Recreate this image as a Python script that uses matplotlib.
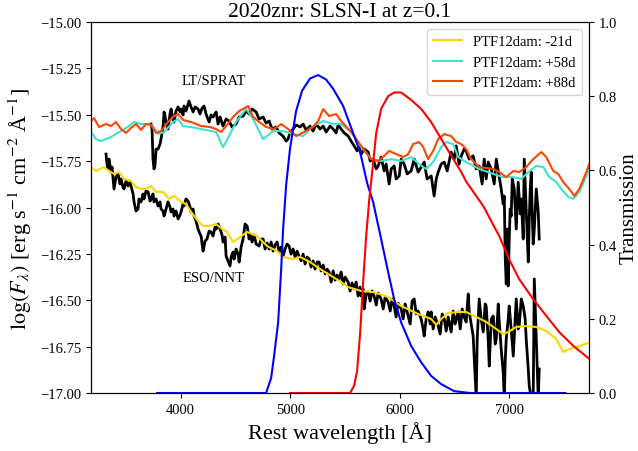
import matplotlib
matplotlib.use("Agg")
import matplotlib.pyplot as plt
from matplotlib.ticker import FuncFormatter
import numpy as np

plt.rcParams['font.family'] = ['Liberation Serif', 'DejaVu Serif']
plt.rcParams['mathtext.fontset'] = 'stix'

# ---------------- data ----------------
# PTF12dam templates (rest wavelength [A], log flux)
t88_wl = [3182,3209,3255,3319,3365,3410,3456,3502,3547,3593,3639,3684,3730,3776,3821,3885,3940,3977,4022,4095,4187,4269,4324,4369,4415,4479,4534,4616,4661,4716,4780,4853,4917,4981,5054,5127,5209,5255,5301,5355,5419,5465,5556,5648,5739,5803,5858,5903,5967,6031,6077,6122,6177,6214,6259,6305,6351,6406,6469,6515,6561,6606,6652,6725,6853,6908,6972,7036,7090,7154,7218,7292,7337,7401,7447,7492,7547,7593,7639,7703,7739]
t88_fl = [-15.534,-15.518,-15.566,-15.550,-15.561,-15.539,-15.577,-15.598,-15.571,-15.550,-15.582,-15.550,-15.555,-15.598,-15.588,-15.539,-15.507,-15.496,-15.528,-15.539,-15.561,-15.566,-15.577,-15.593,-15.561,-15.512,-15.480,-15.453,-15.512,-15.539,-15.566,-15.577,-15.550,-15.577,-15.615,-15.593,-15.566,-15.534,-15.469,-15.507,-15.496,-15.534,-15.593,-15.668,-15.739,-15.749,-15.722,-15.695,-15.712,-15.728,-15.712,-15.658,-15.647,-15.674,-15.739,-15.695,-15.631,-15.604,-15.615,-15.647,-15.658,-15.685,-15.739,-15.782,-15.792,-15.809,-15.836,-15.803,-15.809,-15.782,-15.739,-15.701,-15.728,-15.803,-15.819,-15.863,-15.900,-15.938,-15.900,-15.809,-15.749]

t58_wl = [3182,3228,3273,3365,3456,3529,3575,3639,3703,3748,3794,3849,3931,3977,4022,4095,4187,4324,4387,4442,4506,4598,4661,4753,4844,4935,5027,5118,5209,5301,5392,5465,5556,5648,5739,5830,5922,6013,6104,6177,6241,6305,6378,6424,6488,6533,6606,6725,6853,6944,7036,7109,7173,7246,7310,7365,7429,7474,7538,7584,7639,7703,7739]
t58_fl = [-15.593,-15.631,-15.642,-15.620,-15.588,-15.561,-15.539,-15.550,-15.550,-15.561,-15.604,-15.593,-15.539,-15.523,-15.561,-15.566,-15.577,-15.593,-15.674,-15.615,-15.539,-15.469,-15.523,-15.631,-15.588,-15.588,-15.604,-15.615,-15.561,-15.534,-15.550,-15.550,-15.593,-15.674,-15.739,-15.749,-15.739,-15.749,-15.728,-15.766,-15.792,-15.755,-15.674,-15.647,-15.658,-15.728,-15.755,-15.792,-15.819,-15.836,-15.836,-15.846,-15.809,-15.776,-15.782,-15.836,-15.863,-15.900,-15.943,-15.954,-15.916,-15.830,-15.776]

t21_wl = [3182,3228,3301,3346,3392,3438,3483,3547,3593,3639,3684,3730,3776,3840,3894,3940,4004,4049,4095,4159,4205,4260,4324,4378,4424,4479,4543,4607,4698,4789,4881,4935,5027,5091,5182,5273,5392,5465,5529,5648,5766,5894,6013,6168,6287,6333,6378,6442,6533,6606,6698,6789,6881,6944,6990,7063,7154,7246,7337,7429,7492,7547,7639,7739]
t21_fl = [-15.782,-15.803,-15.782,-15.803,-15.819,-15.809,-15.846,-15.857,-15.890,-15.900,-15.900,-15.884,-15.916,-15.916,-15.954,-15.938,-15.970,-15.981,-16.024,-16.073,-16.100,-16.100,-16.089,-16.116,-16.132,-16.186,-16.159,-16.132,-16.154,-16.208,-16.235,-16.267,-16.278,-16.267,-16.294,-16.332,-16.375,-16.402,-16.429,-16.450,-16.456,-16.483,-16.531,-16.574,-16.601,-16.633,-16.601,-16.569,-16.563,-16.563,-16.590,-16.617,-16.655,-16.682,-16.671,-16.644,-16.639,-16.644,-16.666,-16.709,-16.779,-16.763,-16.747,-16.725]

# LT/SPRAT spectrum
lt_wl = [3730,3739,3748,3757,3766,3776,3794,3812,3821,3840,3849,3867,3885,3903,3913,3931,3940,3958,3977,3995,4004,4022,4031,4049,4077,4095,4114,4132,4159,4177,4196,4214,4232,4260,4278,4296,4324,4342,4360,4387,4415,4442,4470,4506,4534,4570,4598,4625,4652,4689,4716,4753,4780,4808,4835,4872,4899,4935,4963,4981,4999,5027,5054,5091,5118,5145,5182,5209,5237,5273,5301,5328,5364,5392,5419,5438,5465,5493,5529,5556,5584,5611,5629,5648,5675,5712,5730,5757,5785,5803,5830,5858,5876,5903,5922,5949,5967,5995,6013,6040,6068,6104,6132,6168,6195,6223,6250,6287,6314,6333,6351,6378,6406,6433,6469,6497,6515,6542,6561,6588,6606,6634,6670,6698,6725,6752,6771,6789,6807,6835,6862,6881,6908,6926,6944,6954,6963,6972,6981,6990,6999,7008,7017,7027,7045,7063,7081,7100,7109,7127,7136,7154,7164,7173,7182,7191,7200,7209,7218,7228,7246,7264,7273]
lt_fl = [-15.550,-15.577,-15.739,-15.792,-15.776,-15.685,-15.685,-15.658,-15.631,-15.561,-15.485,-15.534,-15.577,-15.496,-15.469,-15.523,-15.539,-15.480,-15.458,-15.485,-15.469,-15.501,-15.453,-15.480,-15.426,-15.458,-15.485,-15.458,-15.469,-15.496,-15.464,-15.453,-15.496,-15.539,-15.501,-15.512,-15.485,-15.550,-15.512,-15.561,-15.523,-15.534,-15.566,-15.550,-15.512,-15.507,-15.480,-15.496,-15.469,-15.485,-15.523,-15.512,-15.545,-15.534,-15.577,-15.566,-15.598,-15.615,-15.642,-15.631,-15.593,-15.577,-15.555,-15.566,-15.550,-15.582,-15.561,-15.588,-15.550,-15.577,-15.561,-15.593,-15.561,-15.577,-15.598,-15.555,-15.577,-15.598,-15.615,-15.642,-15.668,-15.695,-15.674,-15.712,-15.685,-15.701,-15.749,-15.739,-15.792,-15.776,-15.728,-15.803,-15.766,-15.873,-15.792,-15.776,-15.846,-15.830,-15.739,-15.766,-15.819,-15.803,-15.739,-15.809,-15.782,-15.755,-15.846,-15.830,-15.938,-15.846,-15.809,-15.766,-15.755,-15.803,-15.701,-15.739,-15.668,-15.766,-15.722,-15.685,-15.695,-15.739,-15.722,-15.792,-15.776,-15.873,-15.739,-15.846,-15.755,-15.792,-15.873,-15.739,-15.836,-15.900,-15.981,-15.938,-16.278,-16.412,-16.116,-16.423,-16.170,-16.008,-16.046,-15.846,-15.900,-16.116,-15.863,-16.035,-15.954,-16.170,-15.739,-16.008,-16.170,-16.294,-16.062,-15.900,-15.809,-16.035,-16.197,-16.116,-15.900,-16.024,-16.170]

# ESO/NNT spectrum
eso_wl = [3319,3328,3337,3346,3365,3374,3392,3410,3429,3447,3456,3474,3483,3502,3520,3538,3547,3566,3575,3593,3611,3620,3639,3657,3666,3684,3703,3721,3730,3748,3757,3776,3794,3812,3821,3840,3849,3867,3885,3903,3913,3931,3940,3958,3977,3995,4004,4022,4031,4049,4068,4086,4095,4114,4123,4141,4159,4177,4187,4196,4205,4223,4241,4260,4278,4296,4314,4324,4342,4360,4378,4387,4406,4415,4433,4451,4461,4479,4488,4506,4524,4534,4552,4570,4588,4607,4625,4634,4652,4671,4689,4716,4734,4753,4771,4789,4808,4826,4844,4862,4881,4899,4917,4935,4953,4972,4990,5008,5027,5045,5063,5081,5100,5118,5136,5154,5173,5191,5209,5227,5246,5264,5282,5301,5319,5337,5355,5374,5392,5410,5428,5447,5465,5483,5502,5529,5547,5565,5584,5602,5620,5638,5648,5666,5675,5693,5712,5730,5748,5766,5785,5803,5830,5849,5867,5894,5913,5931,5949,5967,5985,6013,6031,6049,6077,6095,6113,6132,6150,6168,6195,6214,6223,6241,6259,6278,6287,6305,6323,6351,6369,6387,6406,6424,6442,6469,6488,6506,6533,6552,6570,6588,6606,6625,6634,6652,6670,6680,6689,6698,6707,6725,6743,6762,6780,6789,6807,6817,6835,6853,6871,6881,6899,6908,6926,6944,6954,6963,6972,6990,6999,7017,7036,7054,7063,7081,7090,7109,7127,7145,7154,7173,7182,7200,7218,7228,7237,7246,7255,7264,7273]
eso_fl = [-15.712,-15.766,-15.792,-15.739,-15.809,-15.782,-15.900,-15.836,-15.819,-15.873,-15.846,-15.890,-15.900,-15.857,-15.884,-15.863,-15.884,-15.927,-15.970,-16.019,-16.008,-15.954,-15.970,-15.927,-15.954,-15.911,-15.916,-15.965,-15.954,-15.927,-15.970,-15.954,-15.992,-15.970,-16.008,-16.019,-16.046,-16.008,-15.970,-15.997,-16.024,-16.008,-16.046,-16.019,-16.062,-16.040,-16.024,-15.981,-15.992,-15.954,-15.965,-15.997,-16.024,-16.008,-16.046,-16.073,-16.116,-16.143,-16.154,-16.197,-16.235,-16.181,-16.170,-16.127,-16.132,-16.154,-16.105,-16.116,-16.089,-16.116,-16.148,-16.186,-16.159,-16.262,-16.288,-16.315,-16.267,-16.240,-16.278,-16.224,-16.251,-16.294,-16.213,-16.170,-16.089,-16.100,-16.170,-16.143,-16.186,-16.148,-16.197,-16.208,-16.170,-16.170,-16.224,-16.191,-16.224,-16.186,-16.235,-16.202,-16.186,-16.240,-16.213,-16.262,-16.224,-16.197,-16.208,-16.251,-16.224,-16.267,-16.235,-16.262,-16.288,-16.251,-16.305,-16.267,-16.278,-16.321,-16.288,-16.332,-16.294,-16.294,-16.342,-16.310,-16.358,-16.332,-16.348,-16.402,-16.342,-16.391,-16.364,-16.385,-16.348,-16.412,-16.375,-16.402,-16.450,-16.407,-16.439,-16.402,-16.477,-16.429,-16.477,-16.439,-16.547,-16.466,-16.456,-16.504,-16.450,-16.477,-16.526,-16.461,-16.493,-16.547,-16.483,-16.509,-16.558,-16.493,-16.531,-16.590,-16.515,-16.547,-16.601,-16.520,-16.585,-16.628,-16.504,-16.493,-16.574,-16.558,-16.601,-16.655,-16.693,-16.601,-16.563,-16.628,-16.563,-16.655,-16.590,-16.639,-16.682,-16.574,-16.601,-16.666,-16.590,-16.671,-16.558,-16.628,-16.563,-16.655,-16.547,-16.590,-16.617,-16.466,-16.563,-16.628,-16.693,-16.817,-16.925,-17.030,-16.709,-16.493,-16.601,-16.671,-16.520,-16.531,-16.709,-16.855,-16.601,-16.585,-16.736,-16.709,-16.520,-16.617,-16.763,-16.887,-17.030,-16.817,-16.709,-16.601,-16.531,-16.655,-16.801,-16.601,-16.493,-16.655,-16.639,-16.493,-16.531,-16.601,-16.709,-16.871,-16.962,-17.030,-17.030,-16.385,-16.547,-16.709,-16.871,-17.030,-16.871]

# filter transmission curves (rest frame)
g_wl = [3785,4780,4826,4853,4890,4917,4935,4963,4999,5054,5109,5182,5255,5328,5392,5483,5575,5638,5703,5757,5830,5894,5949,6013,6104,6195,6287,6378,6497,6643,7511]
g_tr = [0,0,0.04,0.10,0.19,0.33,0.44,0.56,0.66,0.76,0.815,0.848,0.857,0.845,0.82,0.774,0.70,0.65,0.565,0.515,0.415,0.326,0.253,0.19,0.127,0.083,0.046,0.024,0.005,0,0]
r_wl = [4999,5547,5584,5611,5638,5666,5693,5721,5757,5785,5830,5894,5949,6013,6104,6195,6287,6378,6469,6561,6606,6762,6908,6999,7090,7218,7337,7456,7584,7730,7800]
r_tr = [0,0,0.02,0.06,0.16,0.30,0.42,0.52,0.62,0.70,0.766,0.80,0.81,0.81,0.79,0.766,0.73,0.685,0.64,0.596,0.57,0.504,0.423,0.36,0.307,0.253,0.208,0.164,0.127,0.092,0.078]

legend_labels = ['PTF12dam: -21d', 'PTF12dam: +58d', 'PTF12dam: +88d']
title = '2020znr: SLSN-I at z=0.1'

# ---------------- plot ----------------
fig = plt.figure(figsize=(6.38, 4.52), dpi=100)
ax = fig.add_axes([0.1426, 0.1283, 0.7806, 0.8208])

ax.plot(lt_wl, lt_fl, color='black', lw=2.0, zorder=2)
ax.plot(eso_wl, eso_fl, color='black', lw=2.0, zorder=2)
l1, = ax.plot(t21_wl, t21_fl, color='gold', lw=1.5, zorder=3, label=legend_labels[0])
l2, = ax.plot(t58_wl, t58_fl, color='turquoise', lw=1.5, zorder=3, label=legend_labels[1])
l3, = ax.plot(t88_wl, t88_fl, color='orangered', lw=1.5, zorder=3, label=legend_labels[2])

ax.text(4305, -15.318, 'LT/SPRAT', ha='center', va='center', fontsize=10.5)
ax.text(4305, -16.375, 'ESO/NNT', ha='center', va='center', fontsize=10.5)

ax.set_xlim(3500/1.1, 8500/1.1)
ax.set_ylim(-17, -15)
ax.set_yticks(np.arange(-17, -14.99, 0.25))
ax.yaxis.set_major_formatter(FuncFormatter(lambda v, p: ('%.2f' % v).replace('-', '\u2212')))
ax.set_xticks([4000, 5000, 6000, 7000])
ax.tick_params(labelsize=10.5)
ax.set_xlabel('Rest wavelength [Å]', fontsize=16)
ax.set_ylabel(r'$\log(F_\lambda)$ [erg s$^{-1}$ cm$^{-2}$ Å$^{-1}$]', fontsize=16)
ax.set_title(title, fontsize=15.5, pad=4)

ax2 = ax.twinx()
ax2.plot(g_wl, g_tr, color='blue', lw=1.5)
ax2.plot(r_wl, r_tr, color='red', lw=1.5)
ax2.set_ylim(0, 1)
ax2.set_yticks([0, 0.2, 0.4, 0.6, 0.8, 1.0])
ax2.yaxis.set_major_formatter(FuncFormatter(lambda v, p: '%.1f' % v))
ax2.tick_params(labelsize=10.5)
ax2.set_ylabel('Transmission', fontsize=15, labelpad=2)
ax2.set_xlim(3500/1.1, 8500/1.1)

ax2.legend(handles=[l1, l2, l3], loc='upper right', fontsize=10.5)

fig.savefig('out.png', dpi=100)
